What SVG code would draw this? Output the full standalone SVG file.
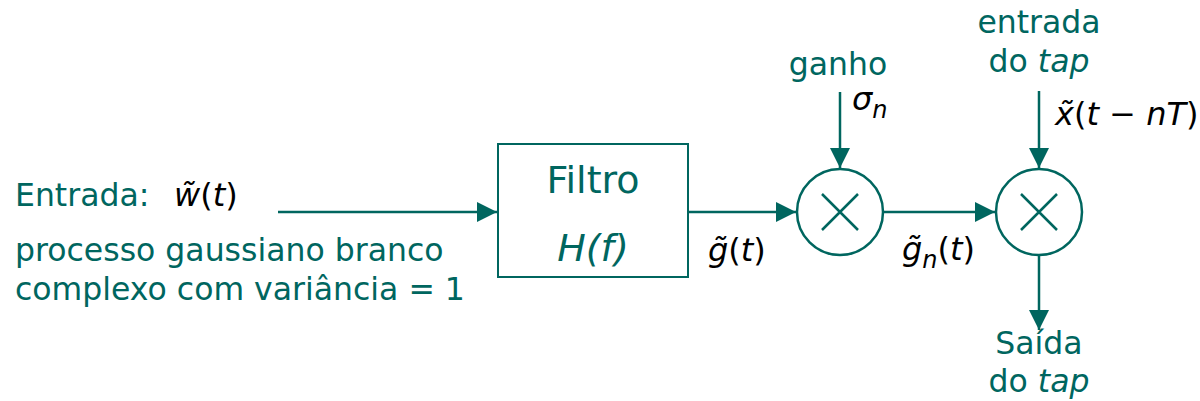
<svg xmlns="http://www.w3.org/2000/svg" width="1200" height="401" viewBox="0 0 1200 401">
<style>
.t{font-family:"DejaVu Sans","Liberation Sans",sans-serif;font-size:31.5px;fill:#00665f}
.big{font-size:38px}
.m{font-family:"DejaVu Sans","Liberation Sans",sans-serif;font-size:32px;fill:#000}
.i{font-style:italic}
.ln{stroke:#00665f;stroke-width:2.5;fill:none}
.bx{stroke:#00665f;stroke-width:2;fill:#fff}
</style>
<defs>
<marker id="ah" viewBox="0 0 10 10" refX="10" refY="5" markerWidth="8" markerHeight="8" markerUnits="strokeWidth" orient="auto">
<path d="M0,0 L10,5 L0,10 z" fill="#00665f"/>
</marker>
</defs>
<rect width="1200" height="401" fill="#fff"/>
<g id="connectors">
<line class="ln" x1="278" y1="212" x2="497" y2="212" marker-end="url(#ah)"/>
<line class="ln" x1="688" y1="212" x2="796" y2="212" marker-end="url(#ah)"/>
<line class="ln" x1="883" y1="212" x2="995" y2="212" marker-end="url(#ah)"/>
<line class="ln" x1="840" y1="92" x2="840" y2="168" marker-end="url(#ah)"/>
<line class="ln" x1="1039" y1="91" x2="1039" y2="168" marker-end="url(#ah)"/>
<line class="ln" x1="1039" y1="255" x2="1039" y2="330" marker-end="url(#ah)"/>
</g>
<g id="input">
<text class="t" x="15" y="206">Entrada:</text>
<text class="m" x="174" y="206"><tspan class="i">w̃</tspan>(<tspan class="i">t</tspan>)</text>
<text class="t" x="15" y="261">processo gaussiano branco</text>
<text class="t" x="15" y="300">complexo com variância = 1</text>
</g>
<g id="filtro">
<rect class="bx" x="498" y="144" width="190" height="133"/>
<text class="t big" x="593" y="193" text-anchor="middle">Filtro</text>
<text class="t big i" x="593" y="261" text-anchor="middle">H(f)</text>
</g>
<g id="g-label">
<text class="m" x="708" y="261"><tspan class="i">g̃</tspan>(<tspan class="i">t</tspan>)</text>
</g>
<g id="mult1">
<circle class="ln" cx="840" cy="212" r="43"/>
<path class="ln" d="M822,194 L858,230 M858,194 L822,230" stroke-width="2"/>
</g>
<g id="ganho">
<text class="t" x="838" y="75" text-anchor="middle">ganho</text>
<text class="m" x="852" y="110"><tspan class="i">σ</tspan><tspan class="i" font-size="24" dy="8">n</tspan></text>
</g>
<g id="gn-label">
<text class="m" x="902" y="260"><tspan class="i">g̃</tspan><tspan class="i" font-size="24" dy="8">n</tspan><tspan dy="-8">(</tspan><tspan class="i">t</tspan>)</text>
</g>
<g id="mult2">
<circle class="ln" cx="1039" cy="212" r="43"/>
<path class="ln" d="M1021,194 L1057,230 M1057,194 L1021,230" stroke-width="2"/>
</g>
<g id="entrada-tap">
<text class="t" x="1039" y="33" text-anchor="middle">entrada</text>
<text class="t" x="1039" y="72" text-anchor="middle">do <tspan class="i">tap</tspan></text>
<text class="m" x="1055" y="125"><tspan class="i">x̃</tspan>(<tspan class="i">t</tspan> − <tspan class="i">nT</tspan>)</text>
</g>
<g id="saida-tap">
<text class="t" x="1039" y="354" text-anchor="middle">Saída</text>
<text class="t" x="1039" y="392" text-anchor="middle">do <tspan class="i">tap</tspan></text>
</g>
</svg>
